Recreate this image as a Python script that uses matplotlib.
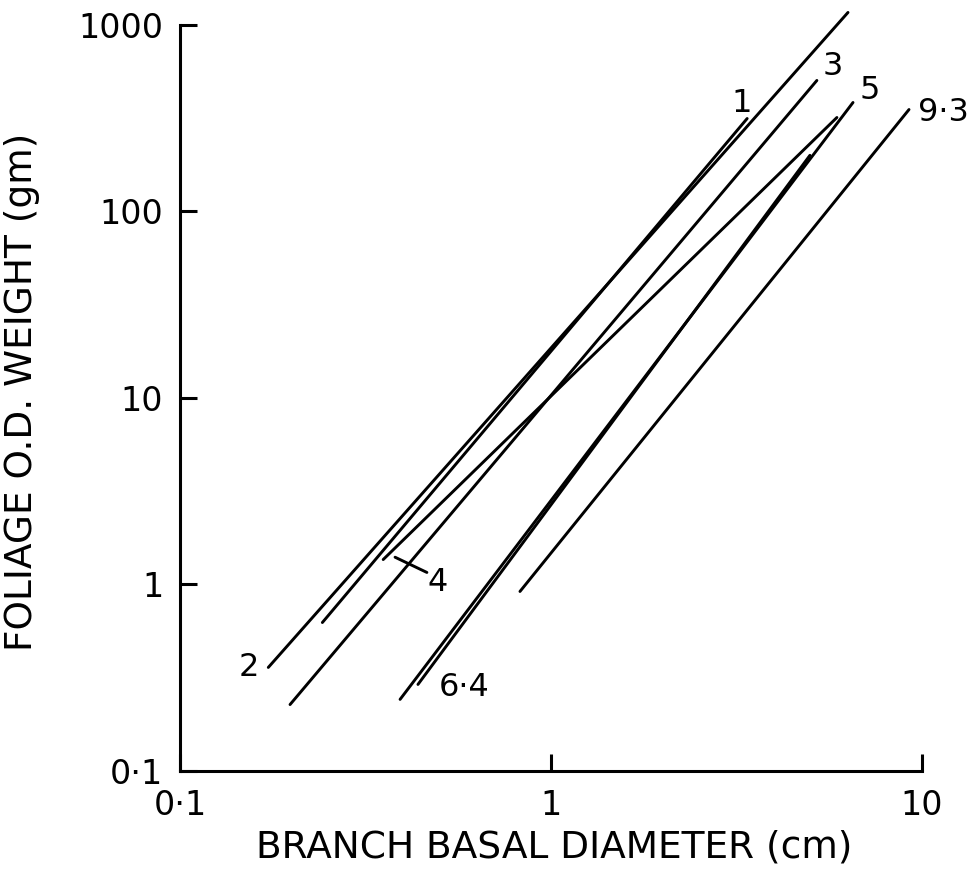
import matplotlib
matplotlib.use('Agg')
import matplotlib.pyplot as plt
from matplotlib.ticker import FixedLocator, NullLocator

# Regression lines: foliage weight vs branch diameter, one per stand age
ages = ['1', '2', '3', '4', '5', '6·4', '9·3']
diam_lo = [0.242, 0.173, 0.198, 0.353, 0.392, 0.438, 0.825]
diam_hi = [3.38, 6.32, 5.21, 5.90, 6.52, 4.99, 9.23]
wt_lo = [0.625, 0.359, 0.227, 1.36, 0.242, 0.291, 0.917]
wt_hi = [315, 1167, 504, 319, 384, 200, 352]

x_ticks = [0.1, 1, 10]
x_ticklabels = ['0·1', '1', '10']
y_ticks = [0.1, 1, 10, 100, 1000]
y_ticklabels = ['0·1', '1', '10', '100', '1000']

# where each age label sits (data coords)
label_pos = {
    '1': (3.27, 380),
    '2': (0.153, 0.36),
    '3': (5.75, 600),
    '4': (0.495, 1.03),
    '5': (7.25, 445),
    '6·4': (0.585, 0.28),
    '9·3': (11.4, 340),
}

plt.rcParams['font.family'] = 'DejaVu Sans'

fig = plt.figure(figsize=(9.76, 8.69), dpi=100)
ax = fig.add_axes([0.1844, 0.1128, 0.7602, 0.8585])
ax.set_xscale('log')
ax.set_yscale('log')
ax.set_xlim(0.1, 10)
ax.set_ylim(0.1, 1000)

for i, age in enumerate(ages):
    ax.plot([diam_lo[i], diam_hi[i]], [wt_lo[i], wt_hi[i]],
            color='black', lw=2.1, solid_capstyle='round', clip_on=False)
    lx, ly = label_pos[age]
    ax.text(lx, ly, age, fontsize=23, ha='center', va='center', clip_on=False)

# small leader line for label 4
ax.plot([0.38, 0.463], [1.40, 1.16], color='black', lw=2.1,
        solid_capstyle='round', clip_on=False)

ax.spines['top'].set_visible(False)
ax.spines['right'].set_visible(False)
ax.spines['left'].set_linewidth(2.2)
ax.spines['bottom'].set_linewidth(2.2)

ax.xaxis.set_major_locator(FixedLocator(x_ticks))
ax.yaxis.set_major_locator(FixedLocator(y_ticks))
ax.xaxis.set_minor_locator(NullLocator())
ax.yaxis.set_minor_locator(NullLocator())
ax.set_xticklabels(x_ticklabels)
ax.set_yticklabels(y_ticklabels)
ax.tick_params(axis='both', direction='in', length=12, width=2.2,
               labelsize=24, pad=12)
ax.tick_params(axis='x', pad=13)

ax.set_xlabel('BRANCH BASAL DIAMETER (cm)', fontsize=27, va='center')
ax.set_ylabel('FOLIAGE O.D. WEIGHT (gm)', fontsize=27, va='center')
ax.xaxis.set_label_coords(0.505, -0.103)
ax.yaxis.set_label_coords(-0.213, 0.508)

fig.savefig('out.png', dpi=100, facecolor='white')
